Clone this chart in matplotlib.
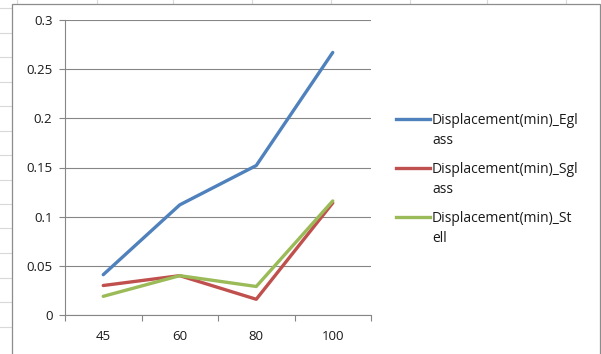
import matplotlib
matplotlib.use("Agg")
import matplotlib.pyplot as plt
from matplotlib.lines import Line2D
from matplotlib.patches import Rectangle
from matplotlib.ticker import FixedLocator

plt.rcParams['font.family'] = ['Open Sans', 'DejaVu Sans']

speeds = ['45', '60', '80', '100']
disp_eglass = [0.041, 0.112, 0.152, 0.267]
disp_sglass = [0.030, 0.040, 0.016, 0.114]
disp_steel = [0.019, 0.040, 0.029, 0.116]

y_ticks = [0, 0.05, 0.1, 0.15, 0.2, 0.25, 0.3]
y_labels = ['0', '0.05', '0.1', '0.15', '0.2', '0.25', '0.3']

series_names = ['Displacement(min)_Egl\nass',
                'Displacement(min)_Sgl\nass',
                'Displacement(min)_St\nell']
series_colors = ['#4F81BD', '#C0504D', '#9BBB59']

W, H = 601, 354
fig = plt.figure(figsize=(W / 100, H / 100), dpi=100)
fig.patch.set_facecolor('white')

def fx(px):
    return px / W

def fy(py):
    return 1 - py / H

# sheet cell lines around the chart object
cell_col = '#d9d9d9'
for yy in [8, 33, 57, 82, 106, 131, 155, 180, 204, 228, 253, 278, 302, 327]:
    fig.add_artist(Line2D([0, fx(11)], [fy(yy), fy(yy)], color=cell_col, lw=0.8, zorder=-2))
for xx in [17, 97, 173, 252, 331, 410, 487, 566]:
    fig.add_artist(Line2D([fx(xx), fx(xx)], [1, fy(3)], color=cell_col, lw=0.8, zorder=-2))

# chart frame
fig.add_artist(Rectangle((fx(11.5), -0.05), fx(600) - fx(11.5), fy(3.5) + 0.05,
                         transform=fig.transFigure, facecolor='white',
                         edgecolor='#8c8c8c', lw=0.9, zorder=-1))

ax = fig.add_axes([fx(65), fy(315), fx(371) - fx(65), fy(20) - fy(315)])
ax.set_facecolor('none')

x = list(range(len(speeds)))
for vals, col in zip([disp_eglass, disp_sglass, disp_steel], series_colors):
    ax.plot(x, vals, color=col, lw=2.4, solid_capstyle='round', solid_joinstyle='round', zorder=3)

ax.set_xlim(-0.5, len(speeds) - 0.5)
ax.set_ylim(0, 0.3)
ax.set_yticks(y_ticks)
ax.set_yticklabels(y_labels)
ax.set_xticks(x)
ax.set_xticklabels(speeds)
ax.xaxis.set_minor_locator(FixedLocator([i - 0.5 for i in range(len(speeds) + 1)]))

grid_col = '#868686'
ax.grid(axis='y', color=grid_col, lw=0.8)
ax.set_axisbelow(True)
for s in ['top', 'right']:
    ax.spines[s].set_visible(False)
for s in ['left', 'bottom']:
    ax.spines[s].set_color(grid_col)
    ax.spines[s].set_linewidth(0.8)

ax.tick_params(axis='y', length=4, width=0.8, color=grid_col, pad=5,
               labelsize=9.5, labelcolor='#1a1a1a')
ax.tick_params(axis='x', which='major', length=0, pad=11, labelsize=9.5, labelcolor='#1a1a1a')
ax.tick_params(axis='x', which='minor', length=4, width=0.8, color=grid_col)

# legend entries, handle beside the first text line
for i, (name, col) in enumerate(zip(series_names, series_colors)):
    yy = 119 + 49 * i
    fig.add_artist(Line2D([fx(396), fx(430)], [fy(yy), fy(yy)], color=col, lw=2.4))
    fig.text(fx(432), fy(yy - 6), name, ha='left', va='top', fontsize=10,
             color='#1a1a1a', linespacing=1.45)

fig.savefig('out.png', dpi=100)
